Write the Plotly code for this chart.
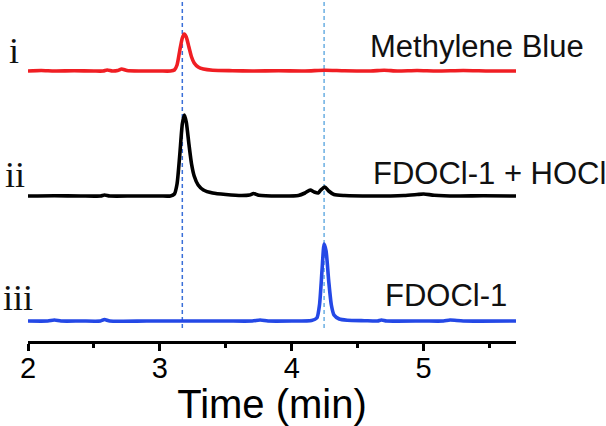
import plotly.graph_objects as go

# Time (min) axis ticks
tick_vals = [2, 3, 4, 5]
tick_text = ["2", "3", "4", "5"]

# Trace i: Methylene Blue (red)
t_red = [2.00, 2.10, 2.20, 2.35, 2.50, 2.57, 2.60, 2.64, 2.68, 2.71, 2.75, 2.85, 3.00, 3.08,
         3.11, 3.13, 3.15, 3.17, 3.185, 3.20, 3.22, 3.24, 3.26, 3.29, 3.33, 3.40, 3.55, 3.70,
         3.90, 4.10, 4.25, 4.40, 4.60, 4.70, 4.80, 4.95, 5.10, 5.30, 5.50, 5.70]
i_red = [0.0, 0.5, 0.0, 0.3, 0.0, 0.0, 1.0, 0.0, 0.5, 2.0, 0.5, 0.0, 0.0, 0.0,
         1.0, 6.0, 20.0, 33.0, 37.0, 34.0, 24.0, 14.0, 8.0, 4.0, 2.0, 0.8, 0.3, 0.0,
         0.3, 0.0, 0.8, 0.2, 0.0, 0.8, 0.0, 0.5, 0.0, 0.5, 0.0, 0.0]

# Trace ii: FDOCl-1 + HOCl (black)
t_blk = [2.00, 2.20, 2.40, 2.55, 2.58, 2.62, 2.80, 3.00, 3.08, 3.11, 3.13, 3.15, 3.17,
         3.185, 3.20, 3.22, 3.24, 3.26, 3.29, 3.33, 3.40, 3.50, 3.62, 3.68, 3.71, 3.75,
         3.90, 4.05, 4.10, 4.14, 4.17, 4.20, 4.22, 4.25, 4.28, 4.32, 4.40, 4.60, 4.85,
         4.95, 5.00, 5.08, 5.25, 5.45, 5.70]
i_blk = [0.0, 0.3, 0.0, 0.0, 1.0, 0.0, 0.0, 0.0, 0.0, 2.0, 12.0, 40.0, 72.0,
         81.0, 74.0, 52.0, 32.0, 20.0, 11.0, 6.0, 3.0, 1.5, 0.5, 1.0, 2.5, 0.8,
         0.0, 0.5, 3.0, 6.0, 4.0, 3.0, 6.0, 9.0, 5.0, 1.5, 0.5, 0.0, 0.5,
         1.5, 2.0, 0.8, 0.0, 0.3, 0.0]

# Trace iii: FDOCl-1 (blue)
t_blu = [2.00, 2.15, 2.20, 2.25, 2.40, 2.55, 2.58, 2.62, 2.90, 3.20, 3.50, 3.70, 3.76,
         3.82, 4.00, 4.15, 4.19, 4.21, 4.23, 4.245, 4.26, 4.28, 4.30, 4.32, 4.36, 4.42,
         4.55, 4.65, 4.68, 4.72, 5.00, 5.15, 5.20, 5.30, 5.70]
i_blu = [0.0, 0.0, 1.0, 0.0, 0.0, 0.0, 1.5, 0.0, 0.0, 0.0, 0.0, 0.0, 1.0,
         0.0, 0.0, 0.5, 3.0, 16.0, 52.0, 77.0, 70.0, 40.0, 16.0, 6.0, 2.0, 0.8,
         0.3, 0.0, 1.0, 0.0, 0.0, 0.0, 1.0, 0.0, 0.0]

offsets = [250, 125, 0]
names = ["Methylene Blue", "FDOCl-1 + HOCl", "FDOCl-1"]
romans = ["i", "ii", "iii"]
colors = ["#f01e23", "#000000", "#2448e6"]

# Retention-time guide lines
guide_times = [3.17, 4.245]
guide_colors = ["#3a6fd8", "#6aaee2"]

series = [(t_red, i_red), (t_blk, i_blk), (t_blu, i_blu)]

fig = go.Figure()
for (t, v), off, col, nm in zip(series, offsets, colors, names):
    fig.add_trace(go.Scatter(x=t, y=[a + off for a in v], mode="lines",
                             line=dict(color=col, width=3.6, shape="spline", smoothing=0.6),
                             name=nm, showlegend=False, hoverinfo="skip"))

for gt, gc in zip(guide_times, guide_colors):
    fig.add_shape(type="line", xref="x", yref="y", x0=gt, x1=gt, y0=-7, y1=325,
                  line=dict(color=gc, width=1.5, dash="4px,3px"), layer="below")

label_x = [4.58, 4.60, 4.69]
label_y = [275, 148, 26]
for nm, lx, ly in zip(names, label_x, label_y):
    fig.add_annotation(text=nm, x=lx, y=ly, xref="x", yref="y", xanchor="left",
                       yanchor="middle", showarrow=False,
                       font=dict(family="Liberation Sans, Arial", size=31, color="#111111"))

roman_x = [-0.029, -0.027, -0.021]
roman_y = [270, 146, 23]
for rm, rx, ry in zip(romans, roman_x, roman_y):
    fig.add_annotation(text=rm, x=rx, y=ry, xref="paper", yref="y", xanchor="center",
                       yanchor="middle", showarrow=False,
                       font=dict(family="Liberation Serif, Times New Roman", size=36, color="#111111"))

fig.update_layout(
    width=606, height=426, autosize=False,
    margin=dict(l=28, r=90, t=0, b=85, autoexpand=False),
    plot_bgcolor="white", paper_bgcolor="white",
    xaxis=dict(range=[2, 5.7], showgrid=False, zeroline=False, showline=True,
               linecolor="black", linewidth=3, ticks="outside", ticklen=7, tickwidth=3,
               tickcolor="black", tickvals=tick_vals, ticktext=tick_text,
               ticklabelstandoff=-8,
               tickfont=dict(family="Liberation Sans, Arial", size=29, color="black"),
               minor=dict(dtick=0.5, ticks="outside", ticklen=4, tickwidth=3, tickcolor="black"),
               title=dict(text="Time (min)", standoff=0,
                          font=dict(family="Liberation Sans, Arial", size=40, color="black"))),
    yaxis=dict(range=[-20, 321], visible=False, showgrid=False, zeroline=False),
)

fig.write_html("out.html", config={"displayModeBar": False},
               post_script="document.body.style.margin='0';document.body.style.overflow='hidden';")
